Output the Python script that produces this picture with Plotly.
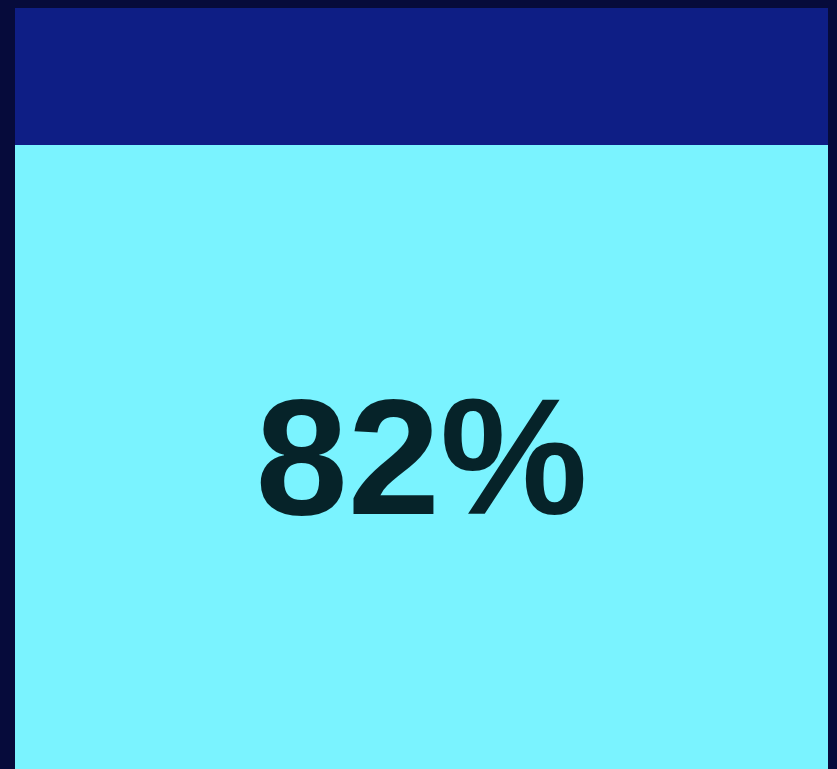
import plotly.graph_objects as go

# share of the total, stacked into one full-width column
segments = ['Yes', 'No']
shares = [82, 18]
colors = ['#7af3ff', '#0e1e85']

BG = '#060b3b'

fig = go.Figure()

for name, share, color in zip(segments, shares, colors):
    fig.add_trace(go.Bar(
        x=['total'],
        y=[share],
        name=name,
        marker=dict(color=color, line=dict(width=0)),
        text=[f'{share}%'] if share == max(shares) else None,
        texttemplate='%{text}' if share == max(shares) else None,
        textposition='inside',
        insidetextanchor='middle',
        textfont=dict(family='Liberation Sans, Arial, sans-serif', size=166,
                      color='#062329', weight='bold'),
        hoverinfo='skip',
    ))

fig.update_layout(
    barmode='stack',
    bargap=0,
    width=837,
    height=769,
    paper_bgcolor=BG,
    plot_bgcolor=BG,
    showlegend=False,
    margin=dict(l=15, r=9, t=8, b=0, pad=0),
    uniformtext=dict(mode=False),
    xaxis=dict(visible=False, fixedrange=True),
    yaxis=dict(visible=False, range=[0, 100], fixedrange=True),
)

# drop the default page margin so the figure sits flush in the window
page_js = (
    "document.body.style.margin='0';"
    "document.body.style.overflow='hidden';"
    f"document.body.style.background='{BG}';"
    f"document.documentElement.style.background='{BG}';"
)

fig.write_html("out.html", post_script=page_js,
               config=dict(displayModeBar=False, staticPlot=True))
